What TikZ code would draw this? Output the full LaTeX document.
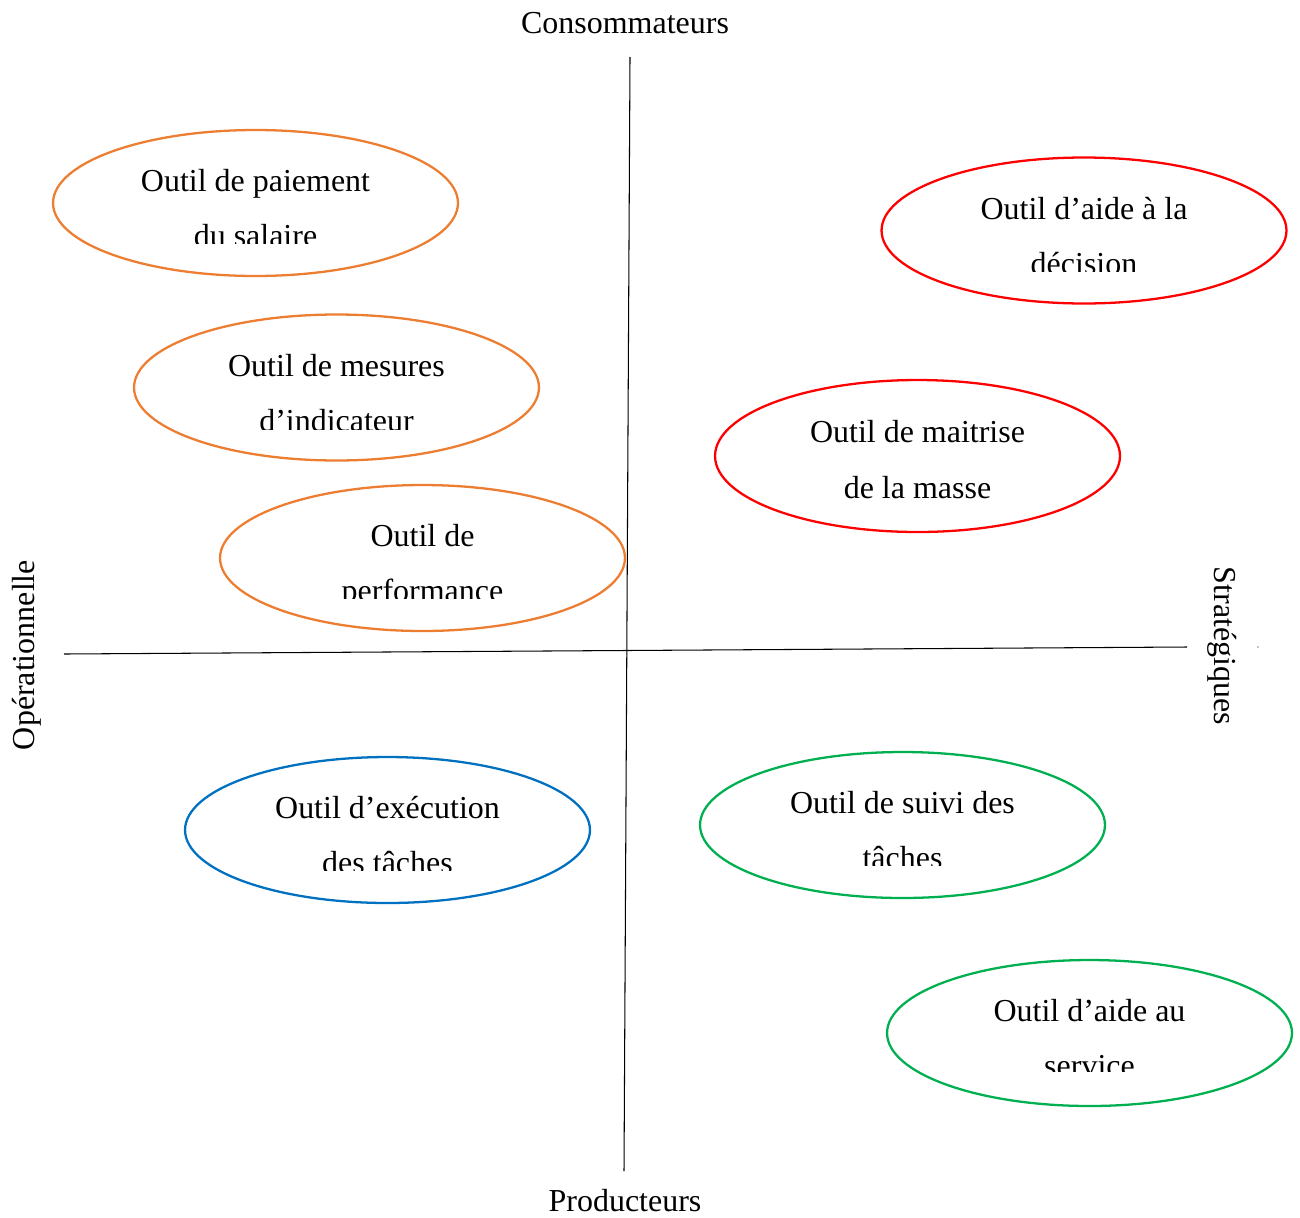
\documentclass[tikz,border=0pt]{standalone}
\usepackage{fontspec}
\setmainfont{Liberation Serif}
\usetikzlibrary{shapes.geometric}
\definecolor{orangeE}{HTML}{ED7D31}
\definecolor{redE}{HTML}{FF0000}
\definecolor{blueE}{HTML}{0070C0}
\definecolor{greenE}{HTML}{00B050}
\begin{document}
\begin{tikzpicture}[x=0.02cm,y=-0.02cm,
  lbl/.style={anchor=base,inner sep=0pt,font=\fontsize{18.2pt}{22pt}\selectfont},
  tool/.style={ellipse,draw,line width=1.3pt,minimum width=8.1cm,minimum height=2.92cm,inner sep=0pt},
  axisline/.style={line width=0.6pt,black}]
\useasboundingbox (0,0) rectangle (1300,1217);
% axes
\coordinate (vtop) at (630,57);
\coordinate (vbot) at (624,1171);
\coordinate (hleft) at (64,654);
\coordinate (hright) at (1187,647);
\draw[axisline] (vtop) -- (vbot);
\draw[axisline] (hleft) -- (hright);
\fill (1258,647) circle (0.6);
\node[lbl] (cons) at (625,33) {Consommateurs};
\node[lbl] (prod) at (625,1211) {Producteurs};
\node[lbl,rotate=90] (oper) at (34,655) {Opérationnelle};
\node[lbl,rotate=-90] (strat) at (1214,646) {Stratégiques};
% ellipses
\node[tool,draw=orangeE] (e1) at (255.5,203) {};
\node[tool,draw=orangeE] (e2) at (336.5,387.5) {};
\node[tool,draw=orangeE] (e3) at (422.5,558) {};
\node[tool,draw=redE] (e4) at (1084,230.5) {};
\node[tool,draw=redE,minimum height=3.04cm] (e5) at (917.5,456) {};
\node[tool,draw=blueE] (e6) at (387.5,830) {};
\node[tool,draw=greenE] (e7) at (902.5,825) {};
\node[tool,draw=greenE] (e8) at (1089.5,1033) {};
% texts
\node[lbl] (t1a) at (255.5,191) {Outil de paiement};
\begin{scope}\clip (50,200) rectangle (460,243);
\node[lbl] (t1b) at (255.5,246) {du salaire};\end{scope}
\node[lbl] (t2a) at (336.5,376) {Outil de mesures};
\begin{scope}\clip (130,385) rectangle (540,429);
\node[lbl] (t2b) at (336.5,431) {d’indicateur};\end{scope}
\node[lbl] (t3a) at (422.5,546) {Outil de};
\begin{scope}\clip (220,555) rectangle (625,598);
\node[lbl] (t3b) at (422.5,601) {performance};\end{scope}
\node[lbl] (t4a) at (1084,219) {Outil d’aide à la};
\begin{scope}\clip (880,228) rectangle (1290,271.5);
\node[lbl] (t4b) at (1084,274) {décision};\end{scope}
\node[lbl] (t5a) at (917.5,442) {Outil de maitrise};
\node[lbl] (t5b) at (917.5,498) {de la masse};
\node[lbl] (t6a) at (387.5,818) {Outil d’exécution};
\begin{scope}\clip (185,827) rectangle (590,870);
\node[lbl] (t6b) at (387.5,873) {des tâches};\end{scope}
\node[lbl] (t7a) at (902.5,813) {Outil de suivi des};
\begin{scope}\clip (700,822) rectangle (1105,865);
\node[lbl] (t7b) at (902.5,868) {tâches};\end{scope}
\node[lbl] (t8a) at (1089.5,1021) {Outil d’aide au};
\begin{scope}\clip (887,1030) rectangle (1292,1071.5);
\node[lbl] (t8b) at (1089.5,1076) {service};\end{scope}
\end{tikzpicture}
\end{document}
